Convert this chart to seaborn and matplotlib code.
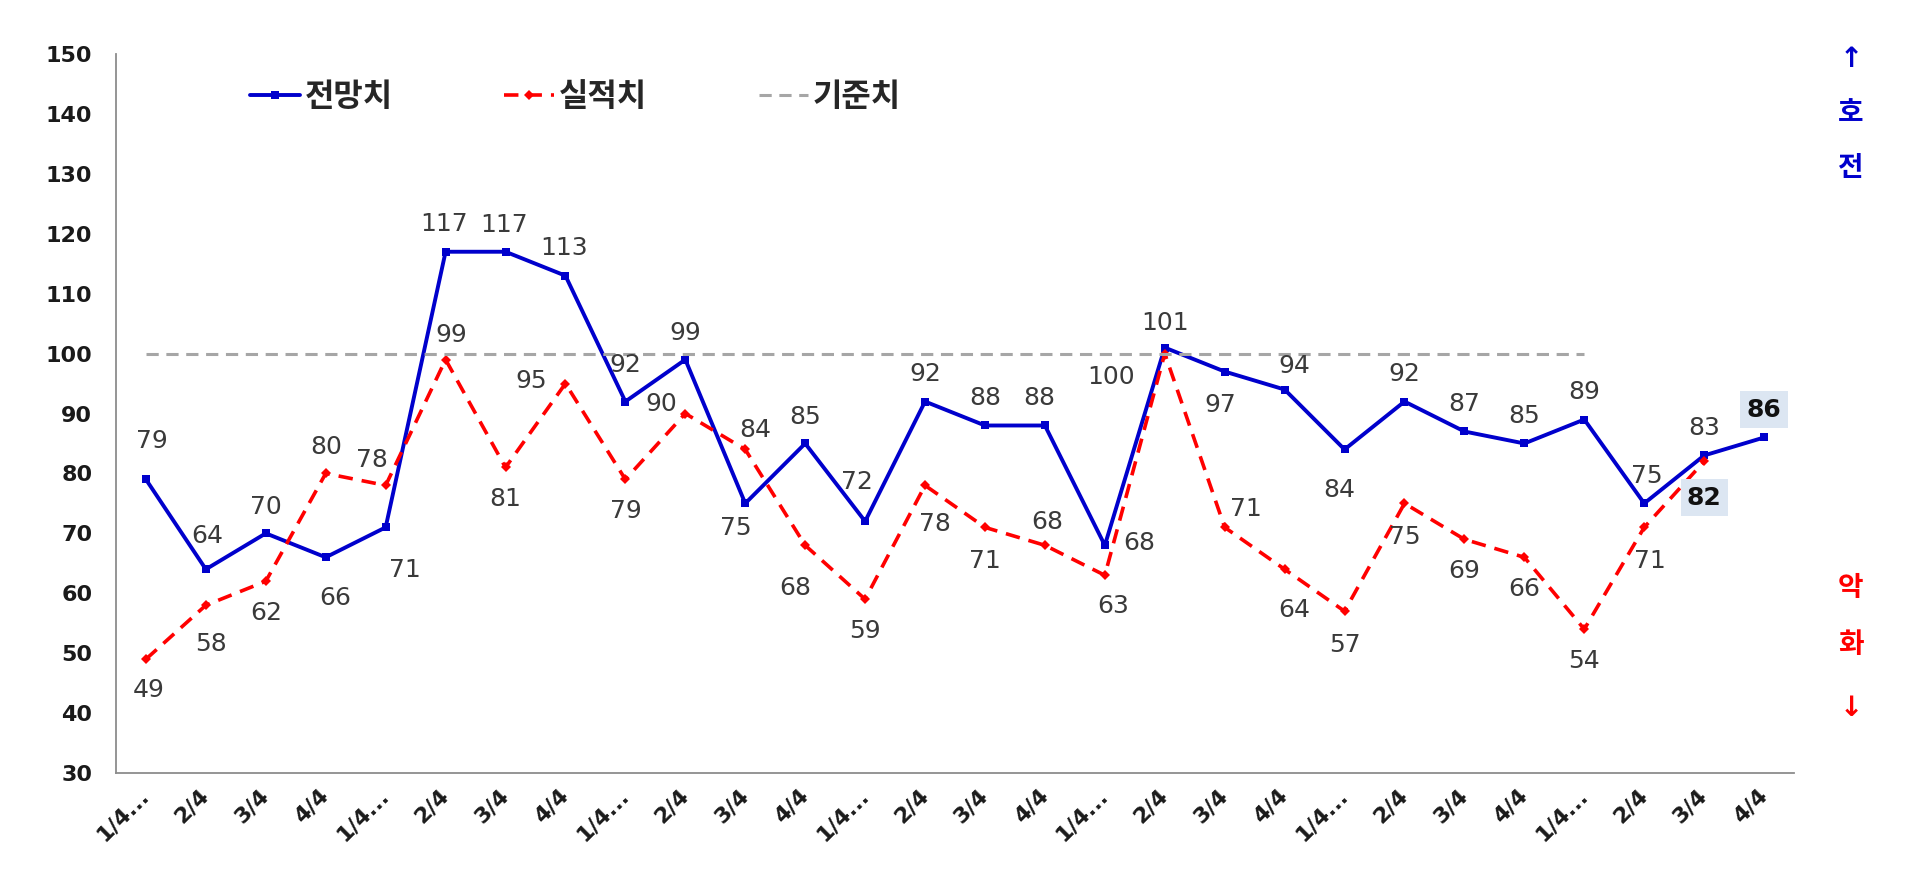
import numpy as np
import pandas as pd
import seaborn as sns
import matplotlib.pyplot as plt

# 분기별 전망치 / 실적치
quarters = ['1/4...', '2/4', '3/4', '4/4'] * 7
outlook = [79, 64, 70, 66, 71, 117, 117, 113, 92, 99, 75, 85, 72, 92, 88, 88,
           68, 101, 97, 94, 84, 92, 87, 85, 89, 75, 83, 86]
actual = [49, 58, 62, 80, 78, 99, 81, 95, 79, 90, 84, 68, 59, 78, 71, 68,
          63, 100, 71, 64, 57, 75, 69, 66, 54, 71, 82]
baseline = [100] * 25
series_names = ['전망치', '실적치', '기준치']

# label offsets (points) - layout only
outlook_off = [(4, 28), (1, 24), (0, 19), (7, -29), (14, -31), (-1, 20), (-1, 19), (-1, 20),
               (0, 26), (0, 19), (-7, -18), (0, 19), (-6, 28), (0, 20), (0, 20), (-4, 20),
               (25, 2), (0, 18), (-3, -24), (7, 17), (-4, -29), (0, 20), (0, 20), (0, 20),
               (0, 20), (2, 20), (0, 20), (0, 20)]
actual_off = [(2, -22), (4, -28), (0, -23), (0, 19), (-10, 18), (4, 18), (0, -23), (-25, 2),
              (0, -23), (-17, 7), (7, 14), (-7, -31), (0, -23), (7, -28), (0, -24), (2, 17),
              (6, -22), (-39, -17), (15, 13), (7, -29), (0, -24), (0, -24), (0, -23), (0, -23),
              (0, -23), (4, -24), (0, -26)]

sns.set_style('white')
plt.rcParams['font.family'] = ['DejaVu Sans', 'Noto Sans CJK KR']

BLUE = '#0000CC'
RED = '#FF0000'
GRAY = '#A6A6A6'
AXIS = '#8C8C8C'

fig = plt.figure(figsize=(19.2, 8.8), dpi=100)
ax = fig.add_axes([0.0604, 0.1216, 0.874, 0.817])

df_o = pd.DataFrame({'x': range(len(outlook)), 'v': outlook})
df_a = pd.DataFrame({'x': range(len(actual)), 'v': actual})
df_b = pd.DataFrame({'x': range(len(baseline)), 'v': baseline})

sns.lineplot(data=df_o, x='x', y='v', ax=ax, color=BLUE, linewidth=2.8,
             marker='s', markersize=6, markeredgewidth=0, label=series_names[0])
sns.lineplot(data=df_a, x='x', y='v', ax=ax, color=RED, linewidth=2.6,
             linestyle=(0, (4, 2.5)), marker='D', markersize=5, markeredgewidth=0,
             label=series_names[1])
sns.lineplot(data=df_b, x='x', y='v', ax=ax, color=GRAY, linewidth=2.2,
             linestyle=(0, (4, 2.5)), label=series_names[2])


def put_labels(values, offsets):
    for i, (v, off) in enumerate(zip(values, offsets)):
        last = i == len(values) - 1
        ax.annotate(str(v), (i, v), xytext=off, textcoords='offset points',
                    ha='center', va='center', fontsize=18,
                    color='#111111' if last else '#3A3A3A',
                    fontweight='bold' if last else 'normal',
                    bbox=dict(boxstyle='square,pad=0.25', fc='#DCE6F2', ec='none') if last else None)


put_labels(outlook, outlook_off)
put_labels(actual, actual_off)

ax.set_xlim(-0.5, len(quarters) - 0.5)
ax.set_ylim(30, 150)
ax.set_yticks(range(30, 151, 10))
ax.set_xticks(range(len(quarters)))
ax.set_xticklabels(quarters, rotation=45, ha='right', va='center',
                   rotation_mode='anchor', fontsize=16, fontweight='bold', color='#1A1A1A')
ax.set_xticks(np.arange(-0.5, len(quarters), 1), minor=True)
ax.tick_params(axis='x', which='major', length=0, pad=14)
ax.tick_params(axis='x', which='minor', length=6, color=AXIS, width=1.2, direction='out')
ax.tick_params(axis='y', length=5, color=AXIS, width=1.2, direction='out', pad=12)
for lab in ax.get_yticklabels():
    lab.set_fontsize(16)
    lab.set_fontweight('bold')
    lab.set_color('#1A1A1A')
ax.set_xlabel('')
ax.set_ylabel('')
for s in ['top', 'right']:
    ax.spines[s].set_visible(False)
for s in ['left', 'bottom']:
    ax.spines[s].set_color(AXIS)
    ax.spines[s].set_linewidth(1.3)

leg = ax.legend(loc='center left', bbox_to_anchor=(0.08, 0.939), ncol=3, frameon=False,
                prop={'size': 23, 'weight': 'bold'}, handlelength=1.55, handletextpad=0.15,
                columnspacing=3.5, borderpad=0, borderaxespad=0)

fig.text(0.964, 0.933, '↑', color=BLUE, fontsize=20, fontweight='bold', ha='center', va='center')
fig.text(0.964, 0.872, '호', color=BLUE, fontsize=20, fontweight='bold', ha='center', va='center')
fig.text(0.964, 0.809, '전', color=BLUE, fontsize=20, fontweight='bold', ha='center', va='center')
fig.text(0.964, 0.332, '악', color=RED, fontsize=20, fontweight='bold', ha='center', va='center')
fig.text(0.964, 0.267, '화', color=RED, fontsize=20, fontweight='bold', ha='center', va='center')
fig.text(0.964, 0.195, '↓', color=RED, fontsize=20, fontweight='bold', ha='center', va='center')

fig.savefig('out.png', dpi=100)
